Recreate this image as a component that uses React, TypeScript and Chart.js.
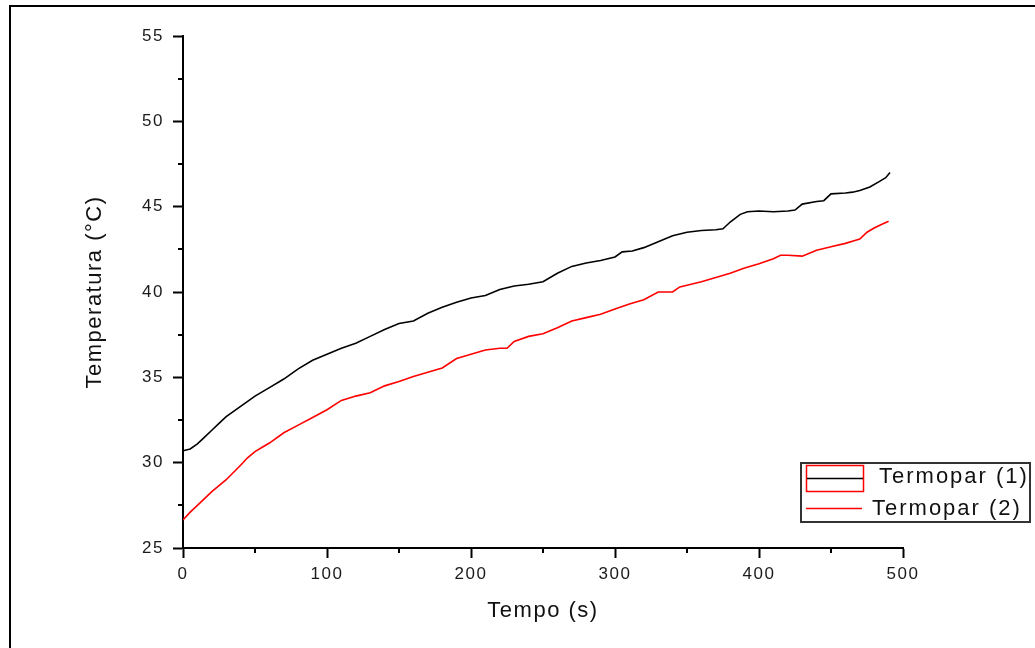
import React, { useEffect, useRef } from "react";
import { Chart, registerables } from "chart.js";

Chart.register(...registerables);

const seriesLabels = ["Termopar (1)", "Termopar (2)"];
const seriesColors = ["#000000", "#ff0000"];

const time1 = [0, 5, 10, 15, 20, 25, 30, 40, 50, 60, 70, 80, 90, 100, 110, 120, 130, 140, 150, 160, 170, 180, 190, 200, 210, 220, 230, 240, 250, 260, 270, 280, 290, 300, 305, 312, 320, 330, 340, 350, 360, 370, 375, 380, 387, 392, 400, 410, 420, 425, 430, 440, 445, 450, 460, 465, 470, 477, 484, 488, 491];
const temp1 = [30.7, 30.8, 31.1, 31.5, 31.9, 32.3, 32.7, 33.3, 33.9, 34.4, 34.9, 35.5, 36.0, 36.35, 36.7, 37.0, 37.4, 37.8, 38.15, 38.3, 38.75, 39.1, 39.4, 39.65, 39.8, 40.15, 40.35, 40.45, 40.6, 41.1, 41.5, 41.7, 41.85, 42.05, 42.35, 42.4, 42.6, 42.95, 43.3, 43.5, 43.6, 43.65, 43.7, 44.1, 44.55, 44.7, 44.75, 44.7, 44.75, 44.8, 45.15, 45.3, 45.35, 45.75, 45.8, 45.85, 45.95, 46.15, 46.5, 46.7, 47.0];

const time2 = [0, 5, 10, 20, 30, 40, 45, 50, 55, 60, 70, 80, 90, 100, 110, 120, 130, 140, 150, 160, 170, 180, 190, 200, 210, 220, 225, 230, 240, 250, 260, 270, 280, 290, 300, 310, 320, 330, 340, 345, 350, 360, 370, 380, 390, 400, 410, 415, 420, 430, 440, 450, 460, 466, 470, 475, 480, 485, 490];
const temp2 = [26.65, 27.1, 27.5, 28.3, 29.0, 29.85, 30.3, 30.65, 30.9, 31.15, 31.75, 32.2, 32.65, 33.1, 33.65, 33.9, 34.1, 34.5, 34.75, 35.05, 35.3, 35.55, 36.1, 36.35, 36.6, 36.7, 36.7, 37.1, 37.4, 37.55, 37.9, 38.3, 38.5, 38.7, 39.0, 39.3, 39.55, 40.0, 40.0, 40.3, 40.4, 40.6, 40.85, 41.1, 41.4, 41.65, 41.95, 42.15, 42.15, 42.1, 42.45, 42.65, 42.85, 43.0, 43.1, 43.5, 43.75, 43.95, 44.15];

const xTicks = [0, 100, 200, 300, 400, 500];
const yTicks = [25, 30, 35, 40, 45, 50, 55];
const xTitle = "Tempo (s)";
const yTitle = "Temperatura (°C)";

const FONT = "'Liberation Sans', Arial, sans-serif";

const styleAndMinorTicks = {
  id: "styleAndMinorTicks",
  beforeDraw(chart: any) {
    chart.ctx.letterSpacing = "1.5px";
  },
  afterDraw(chart: any) {
    const { ctx } = chart;
    const x = chart.scales.x;
    const y = chart.scales.y;
    ctx.save();
    ctx.strokeStyle = "#000";
    ctx.lineWidth = 2;
    ctx.beginPath();
    for (let i = 0; i < xTicks.length - 1; i++) {
      const px = Math.round(x.getPixelForValue((xTicks[i] + xTicks[i + 1]) / 2));
      ctx.moveTo(px, y.bottom);
      ctx.lineTo(px, y.bottom + 5);
    }
    for (let i = 0; i < yTicks.length - 1; i++) {
      const py = Math.round(y.getPixelForValue((yTicks[i] + yTicks[i + 1]) / 2));
      ctx.moveTo(x.left, py);
      ctx.lineTo(x.left - 5, py);
    }
    ctx.stroke();

    // legend box
    const ds = chart.data.datasets;
    ctx.lineWidth = 2;
    ctx.strokeStyle = "#333";
    ctx.strokeRect(801, 463, 229, 59);
    // entry 1 (Origin-style swatch)
    ctx.lineWidth = 1.5;
    ctx.strokeStyle = "#ff0000";
    ctx.strokeRect(806.5, 465.5, 57, 26);
    ctx.strokeStyle = ds[0].borderColor;
    ctx.beginPath();
    ctx.moveTo(807, 478.5);
    ctx.lineTo(863, 478.5);
    ctx.stroke();
    // entry 2
    ctx.strokeStyle = ds[1].borderColor;
    ctx.beginPath();
    ctx.moveTo(806, 508.5);
    ctx.lineTo(862, 508.5);
    ctx.stroke();
    ctx.letterSpacing = "2px";
    ctx.fillStyle = "#111";
    ctx.font = `22px ${FONT}`;
    ctx.textBaseline = "middle";
    ctx.textAlign = "left";
    ctx.fillText(ds[0].label, 879, 477);
    ctx.fillText(ds[1].label, 872, 509);
    ctx.restore();
  },
};

export default function App() {
  const ref = useRef<HTMLCanvasElement>(null);
  useEffect(() => {
    if (!ref.current) return;
    const chart = new Chart(ref.current, {
      type: "line",
      data: {
        datasets: [
          {
            label: seriesLabels[0],
            data: time1.map((t, i) => ({ x: t, y: temp1[i] })),
            borderColor: seriesColors[0],
            backgroundColor: seriesColors[0],
            borderWidth: 1.6,
            pointRadius: 0,
            tension: 0,
          },
          {
            label: seriesLabels[1],
            data: time2.map((t, i) => ({ x: t, y: temp2[i] })),
            borderColor: seriesColors[1],
            backgroundColor: seriesColors[1],
            borderWidth: 1.6,
            pointRadius: 0,
            tension: 0,
          },
        ],
      },
      options: {
        animation: false,
        responsive: false,
        devicePixelRatio: 1,
        layout: { padding: { left: 0, right: 132, top: 36, bottom: 0 } },
        plugins: {
          legend: { display: false },
          tooltip: { enabled: false },
        },
        scales: {
          x: {
            type: "linear",
            min: 0,
            max: 500,
            afterFit: (s: any) => {
              s.height = 100;
            },
            afterBuildTicks: (s: any) => {
              s.ticks = xTicks.map((v) => ({ value: v }));
            },
            border: { display: true, color: "#000", width: 2 },
            grid: {
              drawOnChartArea: false,
              drawTicks: true,
              tickLength: 10,
              tickColor: "#000",
              tickWidth: 2,
            },
            ticks: {
              padding: 6,
              color: "#1a1a1a",
              font: { family: FONT, size: 17 },
              maxRotation: 0,
            },
            title: {
              display: true,
              text: xTitle,
              color: "#111",
              font: { family: FONT, size: 22 },
              padding: { top: 0, bottom: 24 },
            },
          },
          y: {
            type: "linear",
            min: 25,
            max: 55,
            afterFit: (s: any) => {
              s.width = 183;
            },
            afterBuildTicks: (s: any) => {
              s.ticks = yTicks.map((v) => ({ value: v }));
            },
            border: { display: true, color: "#000", width: 2 },
            grid: {
              drawOnChartArea: false,
              drawTicks: true,
              tickLength: 10,
              tickColor: "#000",
              tickWidth: 2,
            },
            ticks: {
              padding: 9,
              color: "#1a1a1a",
              font: { family: FONT, size: 17 },
            },
            title: {
              display: true,
              text: yTitle,
              color: "#111",
              font: { family: FONT, size: 22 },
              padding: { top: 82, bottom: 0 },
            },
          },
        },
      },
      plugins: [styleAndMinorTicks],
    } as any);
    return () => chart.destroy();
  }, []);

  return (
    <div
      style={{
        position: "fixed",
        left: 0,
        top: 0,
        width: 1035,
        height: 648,
        background: "#fff",
        overflow: "hidden",
      }}
    >
      <div
        style={{
          position: "absolute",
          left: 9,
          top: 5,
          right: 0,
          bottom: 0,
          borderTop: "2px solid #000",
          borderLeft: "2px solid #000",
        }}
      />
      <canvas
        ref={ref}
        width={1035}
        height={648}
        style={{ position: "absolute", left: 0, top: 0, width: 1035, height: 648 }}
      />
    </div>
  );
}
